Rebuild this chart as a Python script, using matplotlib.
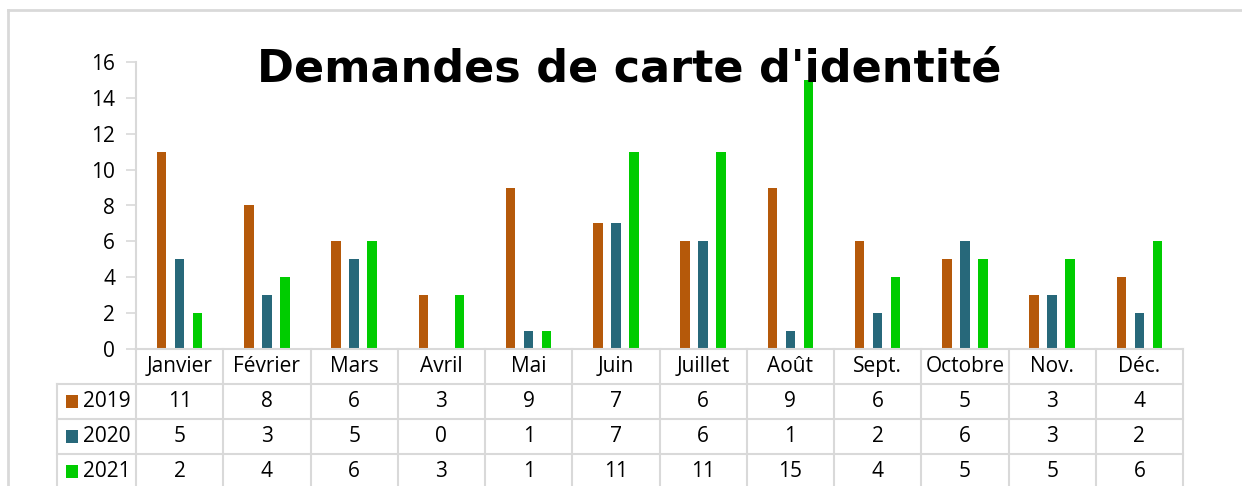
import matplotlib.pyplot as plt
import matplotlib.transforms as mtrans
from matplotlib.patches import Rectangle
from matplotlib.lines import Line2D
import numpy as np

plt.rcParams['font.family'] = ['Open Sans', 'DejaVu Sans']

months = ['Janvier', 'Février', 'Mars', 'Avril', 'Mai', 'Juin', 'Juillet',
          'Août', 'Sept.', 'Octobre', 'Nov.', 'Déc.']
years = ['2019', '2020', '2021']
v2019 = [11, 8, 6, 3, 9, 7, 6, 9, 6, 5, 3, 4]
v2020 = [5, 3, 5, 0, 1, 7, 6, 1, 2, 6, 3, 2]
v2021 = [2, 4, 6, 3, 1, 11, 11, 15, 4, 5, 5, 6]
series = [v2019, v2020, v2021]
colors = ['#B5590A', '#27687A', '#00CC00']

W, H = 1242, 486
fig = plt.figure(figsize=(W / 100, H / 100), dpi=100)

# light frame: only the top and left edges show in the picture
fig.add_artist(Line2D([8 / W, 1.0], [1 - 10 / H, 1 - 10 / H], transform=fig.transFigure,
                      color='#D9D9D9', linewidth=2))
fig.add_artist(Line2D([8 / W, 8 / W], [0, 1 - 10 / H], transform=fig.transFigure,
                      color='#D9D9D9', linewidth=2))

left, right, top, bottom = 136, 1183, 62, 349
ax = fig.add_axes([left / W, 1 - bottom / H, (right - left) / W, (bottom - top) / H])

x = np.arange(len(months))
width = 0.11
offset = 0.206
for i, vals in enumerate(series):
    ax.bar(x + (i - 1) * offset, vals, width=width, color=colors[i], zorder=2)

fs = 15
ax.set_xlim(-0.5, len(months) - 0.5)
ax.set_ylim(0, 16)
ax.set_yticks(range(0, 17, 2))
ax.set_xticks([])
ax.tick_params(axis='y', length=7, width=1.2, color='#D9D9D9', pad=8, labelsize=fs)
for s in ['top', 'right']:
    ax.spines[s].set_visible(False)
for s in ['left', 'bottom']:
    ax.spines[s].set_color('#D9D9D9')
    ax.spines[s].set_linewidth(1.5)

# data table under the plot
trans = mtrans.blended_transform_factory(ax.transData, ax.transAxes)
row_h = 35 / (bottom - top)
lab_w = (left - 57) / (right - left) * len(months)
grid = dict(color='#D9D9D9', linewidth=1.5, transform=trans, clip_on=False)
n_rows = 4
y_bot = -n_rows * row_h - 0.05
for r in range(1, n_rows):
    ax.plot([-0.5 - lab_w, 11.5], [-r * row_h, -r * row_h], **grid)
for b in np.arange(-0.5, 12, 1.0):
    ax.plot([b, b], [0, y_bot], **grid)
ax.plot([-0.5 - lab_w, -0.5 - lab_w], [-row_h, y_bot], **grid)

for j, m in enumerate(months):
    ax.text(j, -0.5 * row_h, m, transform=trans, ha='center', va='center', fontsize=fs)
for i, vals in enumerate(series):
    yc = -(i + 1.5) * row_h
    for j, v in enumerate(vals):
        ax.text(j, yc, str(v), transform=trans, ha='center', va='center', fontsize=fs)
    ax.add_patch(Rectangle((-0.5 - lab_w + 0.105, yc - 0.021), 0.14, 0.042, transform=trans,
                           facecolor=colors[i], edgecolor='none', clip_on=False))
    ax.text(-0.5 - lab_w + 0.3, yc, years[i], transform=trans, ha='left', va='center',
            fontsize=fs)

fig.text(629 / W, 1 - 82 / H, "Demandes de carte d'identité", ha='center', va='baseline',
         fontsize=32, fontweight='bold', family='DejaVu Sans', zorder=5)

fig.savefig('out.png', dpi=100)
